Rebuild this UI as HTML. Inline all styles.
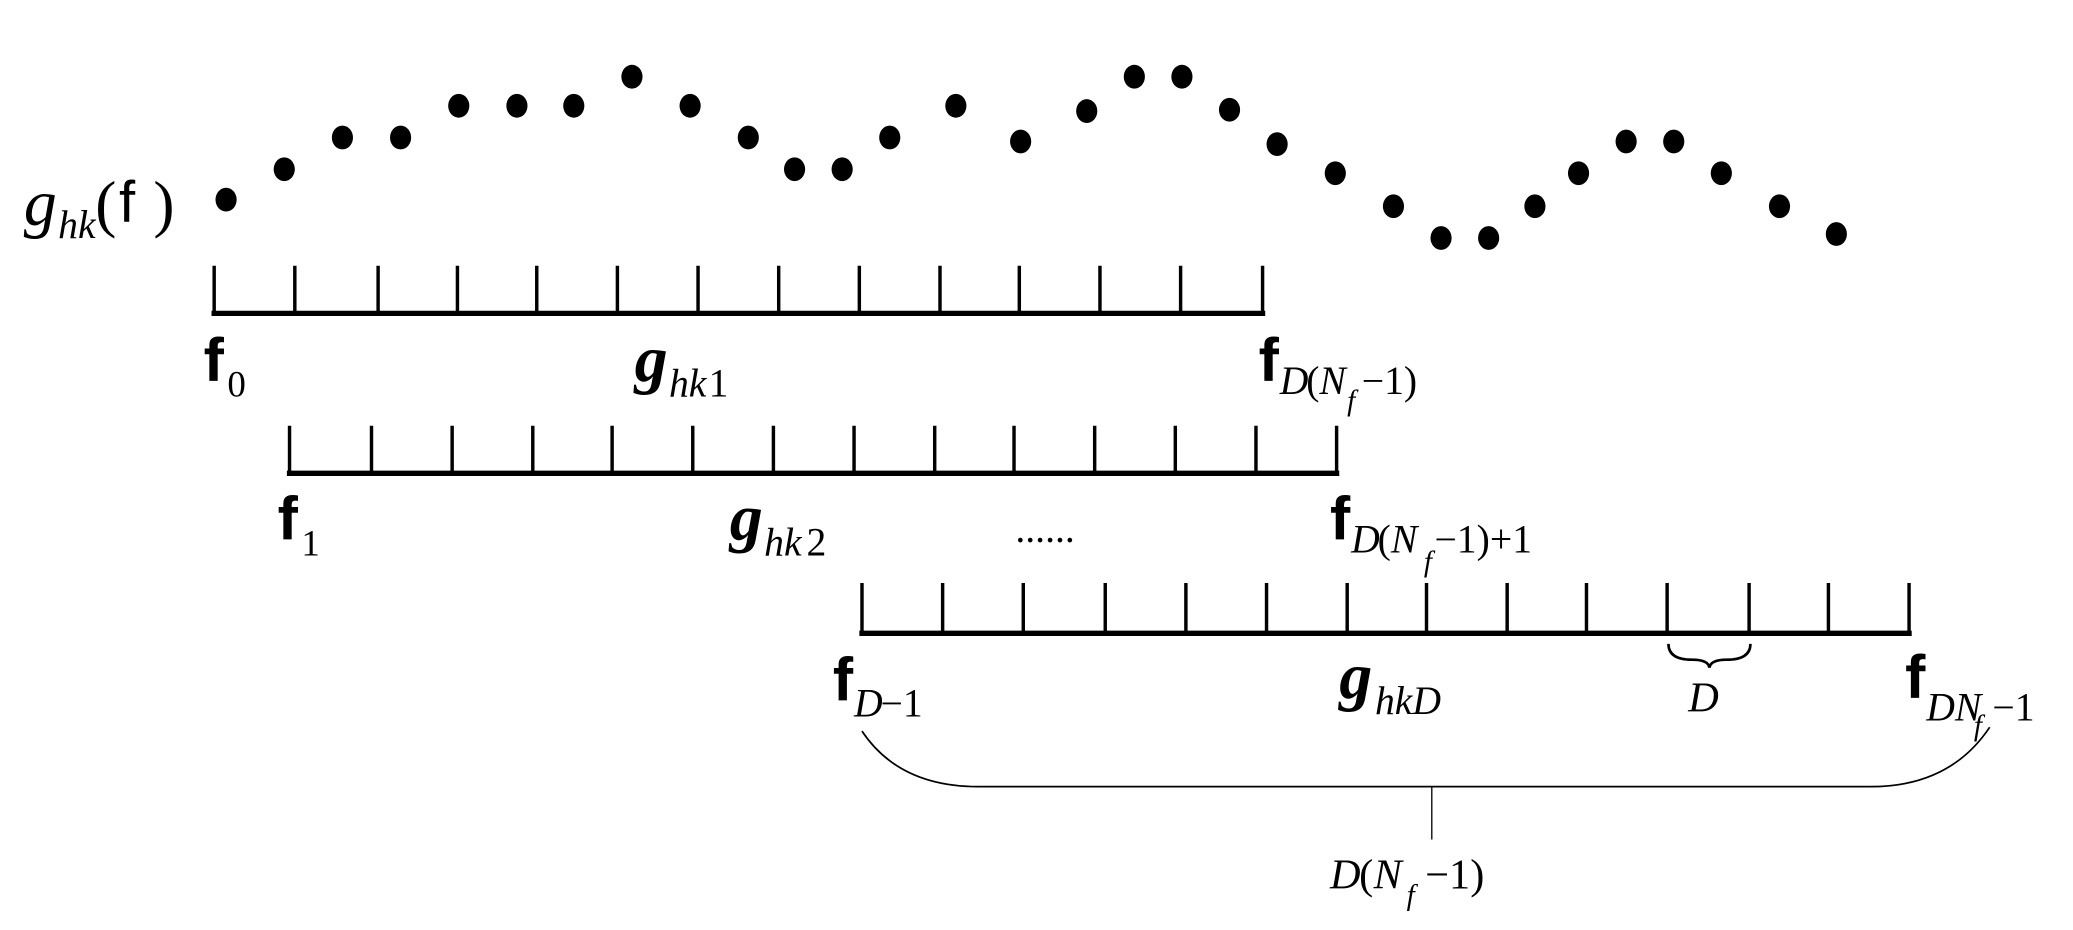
<!DOCTYPE html>
<html><head><meta charset="utf-8"><style>html,body{margin:0;padding:0;background:#fff}svg{display:block}</style></head><body>
<svg width="2073" height="930" viewBox="0 0 1568 703.4" xmlns="http://www.w3.org/2000/svg">
<g fill="#000">
<ellipse cx="171" cy="151" rx="8" ry="9"/><ellipse cx="215" cy="128" rx="8" ry="9"/><ellipse cx="259" cy="104" rx="8" ry="9"/><ellipse cx="303" cy="104" rx="8" ry="9"/><ellipse cx="347" cy="80" rx="8" ry="9"/><ellipse cx="391" cy="80" rx="8" ry="9"/><ellipse cx="434" cy="80" rx="8" ry="9"/><ellipse cx="478" cy="58" rx="8" ry="9"/><ellipse cx="522" cy="80" rx="8" ry="9"/><ellipse cx="566" cy="104" rx="8" ry="9"/><ellipse cx="601" cy="128" rx="8" ry="9"/><ellipse cx="637" cy="128" rx="8" ry="9"/><ellipse cx="673" cy="104" rx="8" ry="9"/><ellipse cx="723" cy="80" rx="8" ry="9"/><ellipse cx="772" cy="107" rx="8" ry="9"/><ellipse cx="822" cy="84" rx="8" ry="9"/><ellipse cx="858" cy="58" rx="8" ry="9"/><ellipse cx="894" cy="58" rx="8" ry="9"/><ellipse cx="930" cy="83" rx="8" ry="9"/><ellipse cx="966" cy="109" rx="8" ry="9"/><ellipse cx="1010" cy="131" rx="8" ry="9"/><ellipse cx="1054" cy="156" rx="8" ry="9"/><ellipse cx="1090" cy="180" rx="8" ry="9"/><ellipse cx="1126" cy="180" rx="8" ry="9"/><ellipse cx="1161" cy="156" rx="8" ry="9"/><ellipse cx="1194" cy="131" rx="8" ry="9"/><ellipse cx="1230" cy="107" rx="8" ry="9"/><ellipse cx="1266" cy="107" rx="8" ry="9"/><ellipse cx="1302" cy="131" rx="8" ry="9"/><ellipse cx="1346" cy="156" rx="8" ry="9"/><ellipse cx="1389" cy="177" rx="8" ry="9"/>
</g>
<g stroke="#000" fill="none">
<path d="M160 237H957" stroke-width="4"/>
<path d="M162 201V237M223 201V237M286 201V237M346 201V237M406 201V237M467 201V237M528 201V237M589 201V237M650 201V237M711 201V237M771 201V237M832 201V237M893 201V237M955 201V237" stroke-width="2.6"/>
<path d="M217 358H1013" stroke-width="4"/>
<path d="M219 322V358M281 322V358M342 322V358M403 322V358M463 322V358M524 322V358M585 322V358M646 322V358M707 322V358M767 322V358M828 322V358M889 322V358M950 322V358M1011 322V358" stroke-width="2.6"/>
<path d="M650 479H1446" stroke-width="4"/>
<path d="M652 441V479M713 441V479M774 441V479M836 441V479M897 441V479M958 441V479M1019 441V479M1079 441V479M1140 441V479M1200 441V479M1261 441V479M1323 441V479M1383 441V479M1444 441V479" stroke-width="2.6"/>
<path d="M1262 487Q1262 499 1280 499Q1292 499 1293 505Q1294 499 1306 499Q1324 499 1324 487" stroke-width="2"/>
<path d="M652 553Q680 595 740 595H1415Q1475 595 1505 550" stroke-width="1.3"/>
<path d="M1083 595V635" stroke-width="1"/>
</g>
<g font-family="Liberation Serif, serif" fill="#000">
<text x="18" y="170" font-size="50" font-style="italic">g</text>
<text x="44" y="180" font-size="30" font-style="italic">hk</text>
<text x="72" y="170" font-size="48">(</text>
<text x="90" y="168" font-size="44" font-family="Liberation Sans, sans-serif">f</text>
<text x="116" y="170" font-size="48">)</text>

<text x="154" y="288" font-size="46" font-weight="bold" font-family="Liberation Sans, sans-serif">f</text>
<text x="172" y="300" font-size="28">0</text>
<text x="480" y="288" font-size="50" font-style="italic" font-weight="bold">g</text>
<text x="506" y="300" font-size="30" font-style="italic">hk</text><text x="536" y="300" font-size="30">1</text>
<text x="952" y="288" font-size="46" font-weight="bold" font-family="Liberation Sans, sans-serif">f</text>
<text x="968" y="298" font-size="30" font-style="italic">D</text><text x="988" y="298" font-size="30">(</text><text x="998" y="298" font-size="30" font-style="italic">N</text><text x="1019" y="310" font-size="22" font-style="italic">f</text><text x="1030" y="298" font-size="30">−1)</text>

<text x="210" y="408" font-size="46" font-weight="bold" font-family="Liberation Sans, sans-serif">f</text>
<text x="228" y="420" font-size="28">1</text>
<text x="552" y="408" font-size="50" font-style="italic" font-weight="bold">g</text>
<text x="578" y="420" font-size="30" font-style="italic">hk</text><text x="610" y="420" font-size="30">2</text>
<text x="768" y="410" font-size="30">......</text>
<text x="1006" y="408" font-size="46" font-weight="bold" font-family="Liberation Sans, sans-serif">f</text>
<text x="1022" y="418" font-size="30" font-style="italic">D</text><text x="1042" y="418" font-size="30">(</text><text x="1052" y="418" font-size="30" font-style="italic">N</text><text x="1077" y="432" font-size="22" font-style="italic">f</text><text x="1085" y="418" font-size="30">−1)+1</text>

<text x="630" y="530" font-size="46" font-weight="bold" font-family="Liberation Sans, sans-serif">f</text>
<text x="646" y="542" font-size="30" font-style="italic">D</text><text x="666" y="542" font-size="30">−1</text>
<text x="1013" y="528" font-size="50" font-style="italic" font-weight="bold">g</text>
<text x="1040" y="540" font-size="30" font-style="italic">hkD</text>
<text x="1277" y="538" font-size="32" font-style="italic">D</text>
<text x="1441" y="528" font-size="46" font-weight="bold" font-family="Liberation Sans, sans-serif">f</text>
<text x="1457" y="545" font-size="30" font-style="italic">DN</text><text x="1493" y="556" font-size="22" font-style="italic">f</text><text x="1507" y="545" font-size="30">−1</text>

<text x="1006" y="672" font-size="32" font-style="italic">D</text><text x="1028" y="672" font-size="32">(</text><text x="1039" y="672" font-size="32" font-style="italic">N</text><text x="1064" y="684" font-size="22" font-style="italic">f</text><text x="1078" y="672" font-size="32">−1)</text>
</g>
</svg>
</body></html>
